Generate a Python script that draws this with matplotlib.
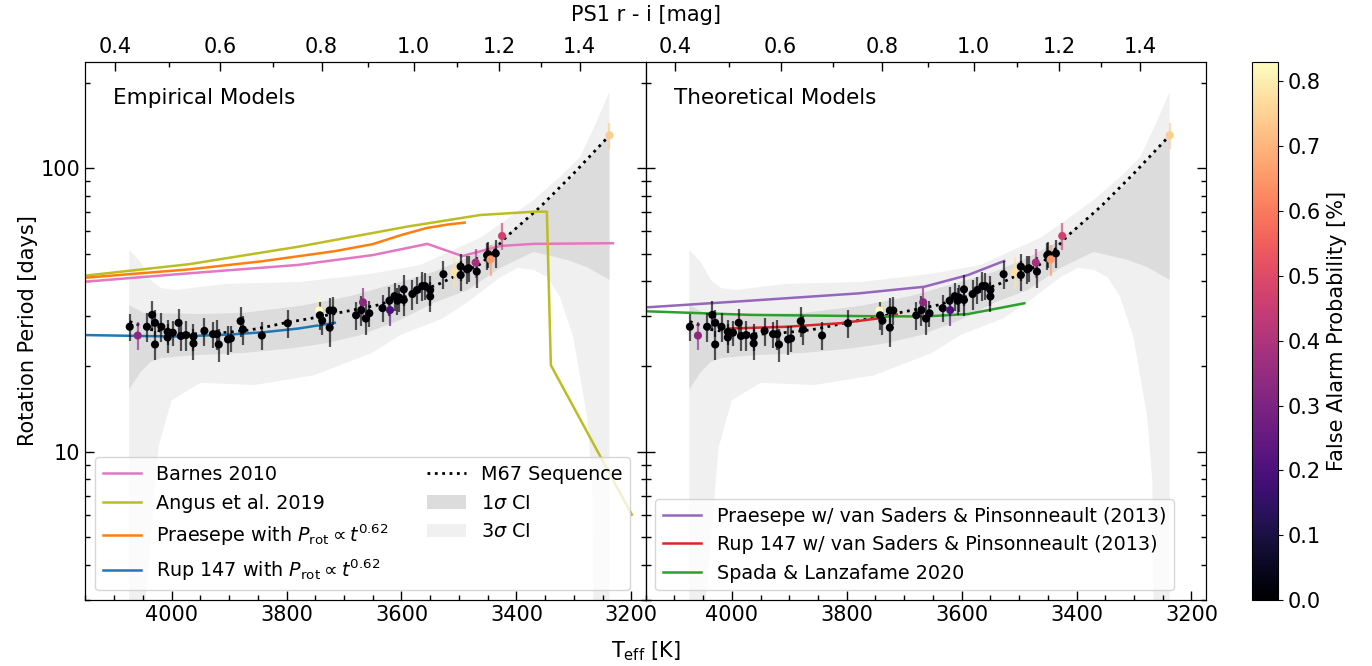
import numpy as np
import matplotlib.pyplot as plt
from matplotlib.ticker import MultipleLocator, ScalarFormatter, NullFormatter
from matplotlib.colors import Normalize

plt.rcParams['font.family'] = ['DejaVu Sans']
plt.rcParams['mathtext.fontset'] = 'dejavusans'

# --- stars (Teff [K], Prot [d], error [d], FAP) ---
star_T = [4073, 4059, 4043, 4034, 4029, 4029, 4018, 4007, 4007, 3998,
          3988, 3984, 3975, 3962, 3962, 3943, 3928, 3921, 3918, 3902,
          3897, 3880, 3876, 3843, 3798, 3743, 3742, 3738, 3725, 3725,
          3719, 3679, 3670, 3667, 3662, 3656, 3633, 3621, 3620, 3612,
          3607, 3604, 3596, 3596, 3581, 3573, 3564, 3559, 3550, 3550,
          3527, 3508, 3497, 3497, 3486, 3483, 3471, 3469, 3451, 3449,
          3445, 3436, 3425, 3238]
star_P = [27.6, 25.7, 27.6, 30.4, 28.5, 23.9, 27.6, 26.5, 25.3, 26.3,
          28.5, 25.6, 25.8, 25.5, 24.1, 26.7, 26.0, 26.0, 23.9, 24.9,
          25.1, 28.9, 27.0, 25.7, 28.4, 31.5, 30.3, 29.0, 31.5, 27.4,
          31.5, 30.3, 31.6, 33.7, 29.5, 30.8, 32.1, 34.1, 31.6, 35.4,
          34.1, 35.0, 37.4, 34.3, 36.0, 37.2, 38.4, 38.4, 37.2, 35.3,
          42.3, 43.0, 45.0, 42.0, 44.0, 44.4, 46.5, 43.2, 49.3, 49.7,
          47.7, 50.1, 57.7, 130.7]
star_err = [3.0, 2.9, 3.2, 3.6, 3.1, 2.8, 3.3, 2.7, 3.0, 2.6,
            3.3, 2.9, 3.1, 2.8, 3.0, 3.0, 2.8, 3.1, 3.2, 2.9,
            2.7, 3.5, 3.2, 2.9, 3.3, 3.6, 3.4, 3.2, 3.5, 3.9,
            3.6, 3.4, 3.8, 4.0, 3.6, 3.3, 3.5, 3.9, 3.8, 4.1,
            3.7, 3.9, 4.6, 4.2, 4.3, 4.1, 4.5, 4.2, 4.4, 4.3,
            4.8, 5.6, 5.0, 5.1, 4.9, 4.8, 5.5, 5.3, 5.4, 5.2,
            6.0, 5.6, 6.4, 13.5]
star_fap = [0, 0.33, 0, 0, 0, 0, 0, 0, 0, 0,
            0, 0, 0, 0, 0, 0, 0, 0, 0, 0,
            0, 0, 0, 0, 0, 0.83, 0, 0, 0, 0,
            0, 0, 0, 0.33, 0, 0, 0, 0, 0.20, 0,
            0, 0, 0, 0, 0, 0, 0, 0, 0, 0,
            0, 0.78, 0, 0, 0, 0, 0.38, 0, 0, 0,
            0.65, 0, 0.47, 0.74]

# --- M67 sequence and confidence bands ---
seq_T = [4073, 4037, 3994, 3937, 3893, 3863, 3834, 3799, 3759, 3706,
         3642, 3589, 3532, 3460, 3417, 3358, 3300, 3241]
seq_P = [28.8, 27.0, 26.2, 26.0, 26.5, 26.9, 27.6, 28.6, 29.5, 31.0,
         32.9, 35.4, 39.3, 46.2, 57.4, 73.2, 96.0, 128.6]

ci1_up_T = [4074, 4049, 3950, 3875, 3776, 3689, 3602, 3544, 3485, 3428, 3370, 3311, 3271, 3238]
ci1_up_P = [32.9, 30.9, 30.6, 30.9, 32.7, 35.4, 39.7, 43.1, 48.3, 55.8, 69.6, 88.7, 109.6, 133.2]
ci1_lo_T = [4074, 4054, 4037, 4019, 3962, 3875, 3788, 3729, 3671, 3602, 3544, 3485, 3428, 3370, 3311, 3277, 3238]
ci1_lo_P = [16.6, 19.1, 20.7, 21.4, 21.9, 22.3, 23.2, 24.2, 25.8, 29.2, 33.5, 37.2, 44.5, 50.7, 47.5, 44.8, 40.4]

ci3_up_T = [4074, 4054, 4037, 4019, 3993, 3906, 3776, 3654, 3567, 3510, 3463, 3428, 3370, 3324, 3289, 3263, 3238]
ci3_up_P = [51.5, 46.7, 40.4, 37.8, 37.2, 39.1, 39.7, 42.4, 45.6, 51.5, 56.8, 63.6, 77.3, 93.2, 109.6, 142.1, 185.9]
ci3_lo_T = [4074, 4044, 4023, 4000, 3950, 3856, 3753, 3652, 3602, 3527, 3480, 3428, 3398,
            3370, 3346, 3324, 3301, 3277, 3268, 3266, 3262, 3238]
ci3_lo_P = [1.0, 3.2, 10.4, 15.2, 17.5, 17.2, 18.6, 22.3, 25.8, 29.6, 34.3, 41.3, 44.5,
            43.8, 41.3, 35.1, 25.4, 13.3, 7.8, 3.0, 1.0, 1.0]

# --- empirical models ---
barnes_T = [4150, 3970, 3780, 3650, 3555, 3494, 3428, 3370, 3232]
barnes_P = [39.8, 42.6, 45.6, 49.4, 54.1, 49.0, 53.2, 54.1, 54.4]
angus_T = [4150, 3969, 3779, 3589, 3463, 3368, 3347, 3340, 3199]
angus_P = [41.8, 45.9, 52.9, 62.3, 68.4, 70.3, 70.3, 20.2, 6.0]
praesepe_T = [4150, 3969, 3842, 3716, 3650, 3602, 3557, 3520, 3490]
praesepe_P = [41.1, 44.0, 47.0, 51.0, 54.0, 58.0, 61.5, 63.3, 64.3]
rup_T = [4150, 4050, 3990, 3900, 3840, 3780, 3716]
rup_P = [25.8, 25.6, 25.5, 25.9, 26.4, 27.2, 28.5]

# --- theoretical models ---
praesepe_vs_T = [4150, 3969, 3779, 3665, 3589, 3526]
praesepe_vs_P = [32.3, 34.1, 36.2, 38.2, 42.0, 47.1]
rup_vs_T = [4005, 3905, 3811, 3747, 3713]
rup_vs_P = [27.2, 27.6, 28.4, 29.5, 30.5]
spada_T = [4150, 3969, 3779, 3665, 3589, 3491]
spada_P = [31.3, 30.4, 30.1, 30.0, 30.6, 33.4]

# --- top axis: Teff where PS1 r-i takes these values ---
ri_labels = ['0.4', '0.6', '0.8', '1.0', '1.2', '1.4']
ri_T = [4099, 3915, 3739, 3579, 3430, 3290]
ri_minor_T = [4005, 3824, 3659, 3503, 3357]

cb_ticks = [0.0, 0.1, 0.2, 0.3, 0.4, 0.5, 0.6, 0.7, 0.8]

fig = plt.figure(figsize=(13.72, 6.66), dpi=100)
ax_l = fig.add_axes([0.0623, 0.0991, 0.4083, 0.8078])
ax_r = fig.add_axes([0.4706, 0.0991, 0.4083, 0.8078], sharey=ax_l)

norm = Normalize(vmin=0, vmax=max(star_fap))
cols = plt.cm.magma(norm(np.array(star_fap)))
star_T = np.array(star_T)
star_P = np.array(star_P)
star_err = np.array(star_err)


def draw_common(ax):
    h3 = ax.fill(np.concatenate([ci3_up_T, ci3_lo_T[::-1]]),
                 np.concatenate([ci3_up_P, ci3_lo_P[::-1]]),
                 color='#f0f0f0', lw=0, zorder=0, label=r'3$\sigma$ CI')[0]
    h1 = ax.fill(np.concatenate([ci1_up_T, ci1_lo_T[::-1]]),
                 np.concatenate([ci1_up_P, ci1_lo_P[::-1]]),
                 color='#dcdcdc', lw=0, zorder=1, label=r'1$\sigma$ CI')[0]
    hs, = ax.plot(seq_T, seq_P, ':', color='k', lw=2, zorder=2, label='M67 Sequence')
    ax.vlines(star_T, star_P - star_err, star_P + star_err, colors=cols,
              alpha=0.65, lw=1.6, zorder=4)
    sc = ax.scatter(star_T, star_P, c=star_fap, cmap='magma', norm=norm,
                    s=34, zorder=5, edgecolors='none')
    return hs, h1, h3, sc


hs, h1, h3, sc = draw_common(ax_l)
lw = 1.8
hb, = ax_l.plot(barnes_T, barnes_P, color='#e377c2', lw=lw, zorder=3, label='Barnes 2010')
ha, = ax_l.plot(angus_T, angus_P, color='#bcbd22', lw=lw, zorder=3, label='Angus et al. 2019')
hp, = ax_l.plot(praesepe_T, praesepe_P, color='#ff7f0e', lw=lw, zorder=3,
                label=r'Praesepe with $P_{\rm rot} \propto t^{0.62}$')
hr, = ax_l.plot(rup_T, rup_P, color='#1f77b4', lw=lw, zorder=3,
                label=r'Rup 147 with $P_{\rm rot} \propto t^{0.62}$')
ax_l.legend(handles=[hb, ha, hp, hr, hs, h1, h3], loc='lower left', ncol=2, fontsize=13.8)

draw_common(ax_r)
h_pv, = ax_r.plot(praesepe_vs_T, praesepe_vs_P, color='#9467bd', lw=lw, zorder=3,
                  label='Praesepe w/ van Saders & Pinsonneault (2013)')
h_rv, = ax_r.plot(rup_vs_T, rup_vs_P, color='#d62728', lw=lw, zorder=3,
                  label='Rup 147 w/ van Saders & Pinsonneault (2013)')
h_sp, = ax_r.plot(spada_T, spada_P, color='#2ca02c', lw=lw, zorder=3,
                  label='Spada & Lanzafame 2020')
ax_r.legend(handles=[h_pv, h_rv, h_sp], loc='lower left', fontsize=13.8)

ax_l.text(0.05, 0.934, 'Empirical Models', transform=ax_l.transAxes, fontsize=15.5, va='center')
ax_r.text(0.05, 0.934, 'Theoretical Models', transform=ax_r.transAxes, fontsize=15.5, va='center')

for ax in (ax_l, ax_r):
    ax.set_yscale('log')
    ax.set_ylim(3, 237)
    ax.set_xlim(4150, 3175)
    ax.xaxis.set_major_locator(MultipleLocator(200))
    ax.xaxis.set_minor_locator(MultipleLocator(50))
    ax.tick_params(which='both', direction='in', top=False, right=True, labelsize=15)
    ax.tick_params(which='major', length=6.5, width=1)
    ax.tick_params(which='minor', length=3.5, width=1)
    top = ax.twiny()
    top.set_xlim(ax.get_xlim())
    top.set_xticks(ri_T, ri_labels)
    top.set_xticks(ri_minor_T, minor=True)
    top.tick_params(which='both', direction='in', labelsize=15)
    top.tick_params(which='major', length=6.5, width=1)
    top.tick_params(which='minor', length=3.5, width=1)

ax_l.yaxis.set_major_formatter(ScalarFormatter())
ax_l.yaxis.set_minor_formatter(NullFormatter())
ax_r.tick_params(labelleft=False)
ax_l.set_ylabel('Rotation Period [days]', fontsize=15, labelpad=2)

fig.text(0.4706, 0.022, r'T$_{\rm eff}$ [K]', ha='center', va='center', fontsize=15)
fig.text(0.4706, 0.977, 'PS1 r - i [mag]', ha='center', va='center', fontsize=15)

cax = fig.add_axes([0.9125, 0.0991, 0.019, 0.8078])
cb = fig.colorbar(sc, cax=cax)
cb.set_ticks(cb_ticks)
cb.ax.tick_params(labelsize=15)
cb.set_label('False Alarm Probability [%]', fontsize=15)

fig.savefig('out.png', dpi=100)
